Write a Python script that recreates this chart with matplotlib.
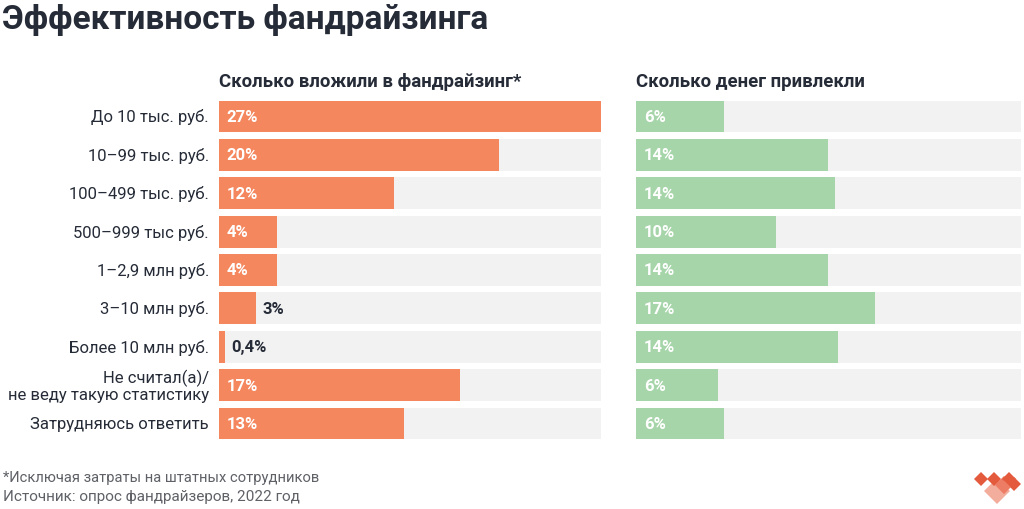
import matplotlib
matplotlib.use("Agg")
import matplotlib.pyplot as plt
from matplotlib.patches import Polygon

plt.rcParams['font.family'] = ['Roboto', 'DejaVu Sans']

# data
categories = ['До 10 тыс. руб.', '10–99 тыс. руб.', '100–499 тыс. руб.',
              '500–999 тыс руб.', '1–2,9 млн руб.', '3–10 млн руб.',
              'Более 10 млн руб.', 'Не считал(а)/\nне веду такую статистику',
              'Затрудняюсь ответить']
invested = [27.0, 19.8, 12.4, 4.1, 4.1, 2.6, 0.4, 17.0, 13.1]
invested_labels = ['27%', '20%', '12%', '4%', '4%', '3%', '0,4%', '17%', '13%']
raised = [6.2, 13.6, 14.1, 9.9, 13.6, 16.9, 14.3, 5.8, 6.2]
raised_labels = ['6%', '14%', '14%', '10%', '14%', '17%', '14%', '6%', '6%']

title = 'Эффективность фандрайзинга'
left_header = 'Сколько вложили в фандрайзинг*'
right_header = 'Сколько денег привлекли'
footnote = '*Исключая затраты на штатных сотрудников'
source = 'Источник: опрос фандрайзеров, 2022 год'

DARK = '#252b37'
GREY_BG = '#f2f2f2'
ORANGE = '#f4875e'
GREEN = '#a6d5a9'

W, H = 1024, 510
fig = plt.figure(figsize=(W / 100, H / 100), dpi=100)


def px(x, y):
    return x / W, 1 - y / H


def make_axes(x0, x1, y0, y1):
    return fig.add_axes([x0 / W, 1 - y1 / H, (x1 - x0) / W, (y1 - y0) / H])


top, bottom = 98.3, 443.7
ax_l = make_axes(219, 601, top, bottom)
ax_r = make_axes(636, 1021, top, bottom)
bar_h = 0.83
full = 27.0

for ax, vals, labels, color, vmax in [(ax_l, invested, invested_labels, ORANGE, full),
                                      (ax_r, raised, raised_labels, GREEN, full * 385 / 382)]:
    ypos = list(range(len(vals)))
    ax.barh(ypos, [vmax] * len(vals), height=bar_h, color=GREY_BG, linewidth=0)
    ax.barh(ypos, vals, height=bar_h, color=color, linewidth=0)
    for y, v, lab in zip(ypos, vals, labels):
        if v > 3.5:
            ax.text(0.55, y, lab, color='white', fontsize=12, fontweight='bold',
                    va='center', ha='left')
        else:
            ax.text(v + 0.45, y, lab, color=DARK, fontsize=12, fontweight='bold',
                    va='center', ha='left')
    ax.set_xlim(0, vmax)
    ax.set_ylim(len(vals) - 0.5, -0.5)
    ax.axis('off')

for y, cat in enumerate(categories):
    ax_l.text(-0.7, y, cat, color=DARK, fontsize=12, va='center', ha='right',
              linespacing=1.05)

fig.text(*px(2, 20), title, fontsize=24, fontweight='bold', color=DARK, va='center')
fig.text(*px(219, 82), left_header, fontsize=13.4, fontweight='bold', color=DARK, va='center')
fig.text(*px(636, 82), right_header, fontsize=13.4, fontweight='bold', color=DARK, va='center')
fig.text(*px(3, 478), footnote, fontsize=10.6, color='#5f6167', va='center')
fig.text(*px(3, 497), source, fontsize=11, color='#5f6167', va='center')


# small logo made of diamonds
def diamond(cx, cy, r, color):
    pts = [px(cx, cy - r), px(cx + r, cy), px(cx, cy + r), px(cx - r, cy)]
    fig.patches.append(Polygon(pts, closed=True, transform=fig.transFigure,
                               facecolor=color, edgecolor='none'))


diamond(997, 492, 13, '#f3ad9c')
diamond(1004, 486, 9, '#ec7c63')
diamond(981, 480, 7, '#e45a3c')
diamond(994, 480, 7, '#e45a3c')
diamond(1009, 480, 7, '#e45a3c')
diamond(1014, 485, 7, '#e45a3c')
diamond(1004, 488, 6.5, '#ec7c63')

fig.savefig('out.png', dpi=100)
